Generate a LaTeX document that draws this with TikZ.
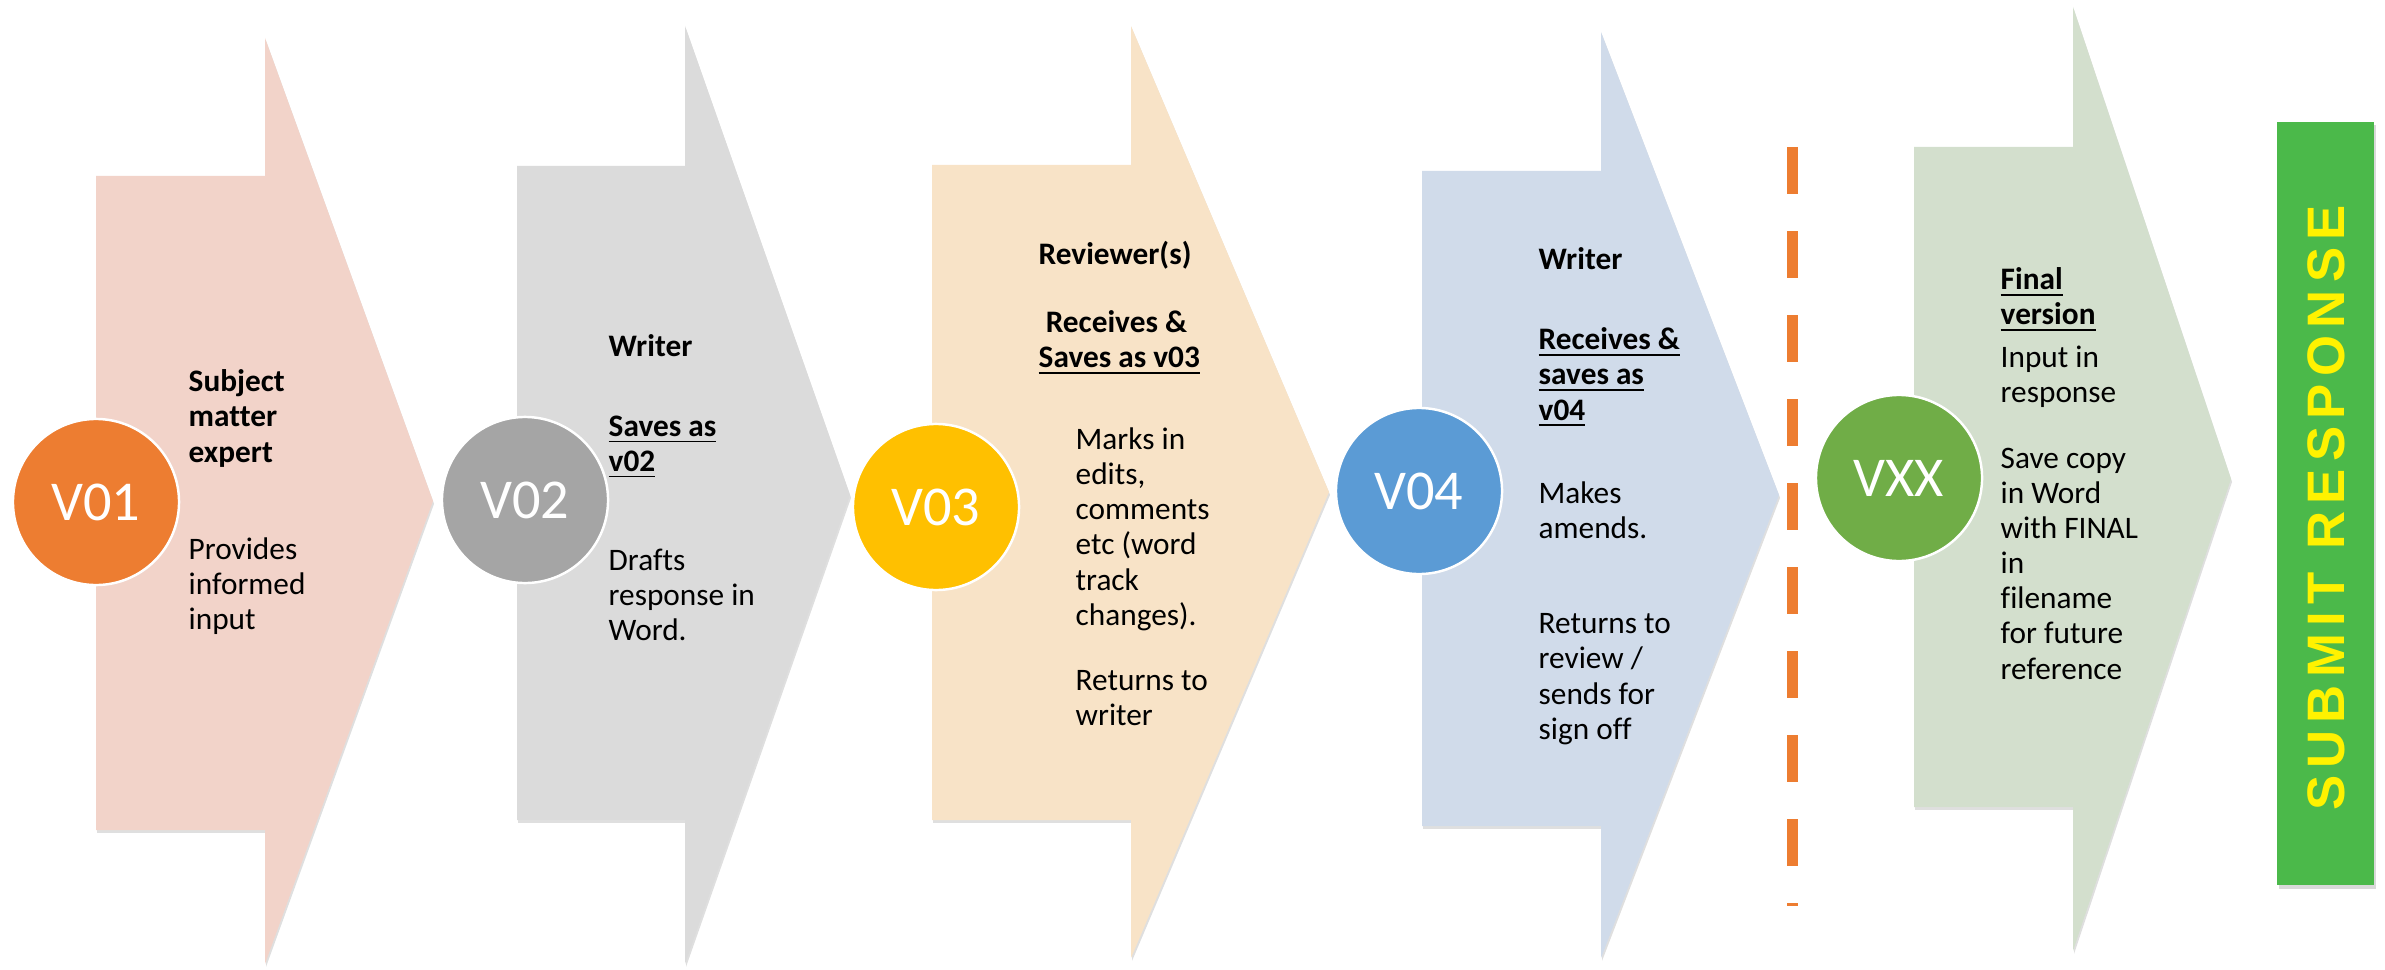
\documentclass[tikz,border=0pt]{standalone}
\usepackage{fontspec}
\setmainfont{Carlito}[Ligatures=NoCommon]
\newfontfamily\bannerfont[LetterSpace=14]{Liberation Sans}
\usetikzlibrary{shadows}

\definecolor{pinkfill}{HTML}{F2D3C9}
\definecolor{greyfill}{HTML}{DBDBDB}
\definecolor{peachfill}{HTML}{F8E3C7}
\definecolor{bluefill}{HTML}{D0DBEA}
\definecolor{sagefill}{HTML}{D3DFCD}
\definecolor{vorange}{HTML}{ED7D31}
\definecolor{vgrey}{HTML}{A5A5A5}
\definecolor{vgold}{HTML}{FFC000}
\definecolor{vblue}{HTML}{5B9BD5}
\definecolor{vgreen}{HTML}{70AD47}
\definecolor{submitgreen}{HTML}{4BB94A}

\begin{document}
\begin{tikzpicture}[x=0.01cm,y=-0.01cm,
  chevron/.style={drop shadow={opacity=0.25,shadow xshift=0.3pt,shadow yshift=-0.8pt}},
  badge/.style={circle,draw=white,line width=0.7pt,minimum size=1.66cm,inner sep=0pt,
    text=white,font=\fontsize{16}{19}\selectfont},
  note/.style={anchor=north west,align=left,inner sep=0pt,font=\fontsize{8.9}{10}\selectfont},
  title/.style={note,font=\fontsize{8.9}{10}\selectfont\bfseries}]
\useasboundingbox (0,0) rectangle (2385,970);

% the five chevrons
\fill[pinkfill,chevron] (96,176) -- (265,176) -- (265,38) -- (433,501)
  -- (265,964) -- (265,830) -- (96,830) -- cycle;
\fill[greyfill,chevron] (517,166) -- (685,166) -- (685,26) -- (850,495)
  -- (685,964) -- (685,820) -- (517,820) -- cycle;
\fill[peachfill,chevron] (932,165) -- (1131,165) -- (1131,26) -- (1329,492)
  -- (1131,958) -- (1131,820) -- (932,820) -- cycle;
\fill[bluefill,chevron] (1422,171) -- (1601,171) -- (1601,32) -- (1779,495)
  -- (1601,958) -- (1601,826) -- (1422,826) -- cycle;
\fill[sagefill,chevron] (1914,147) -- (2073,147) -- (2073,7) -- (2231,479)
  -- (2073,951) -- (2073,807) -- (1914,807) -- cycle;

% version badges
\node[badge,fill=vorange] (v01) at (96,502) {V01};
\node[badge,fill=vgrey] (v02) at (525,500) {V02};
\node[badge,fill=vgold] (v03) at (936,507) {V03};
\node[badge,fill=vblue] (v04) at (1419,491) {V04};
\node[badge,fill=vgreen] (vxx) at (1899,478) {VXX};

% V01
\node[title] (expert) at (188,369) {Subject\\matter\\expert};
\node[note] (input) at (188,537) {Provides\\informed\\input};

% V02
\node[title] (writerA) at (608,334) {Writer};
\node[title] (savesA) at (608,415) {\underline{Saves as}\\\underline{v02}};
\node[note] (drafts) at (608,548) {Drafts\\response in\\Word.};

% V03
\node[title] (reviewer) at (1038,241) {Reviewer(s)};
\node[title] (savesB) at (1038,310) {\ Receives \&\\\underline{Saves as v03}};
\node[note] (marks) at (1075,427) {Marks in\\edits,\\comments\\etc (word\\track\\changes).};
\node[note] (backA) at (1075,670) {Returns to\\writer};

% V04
\node[title] (writerB) at (1538,247) {Writer};
\node[title] (savesC) at (1538,327) {\underline{Receives \&}\\\underline{saves as}\\\underline{v04}};
\node[note] (amends) at (1538,481) {Makes\\amends.};
\node[note] (backB) at (1538,613) {Returns to\\review /\\sends for\\sign off};

% sign-off cut line
\coordinate (cut top) at (1792,147);
\coordinate (cut end) at (1792,906);
\draw[vorange,line width=0.11cm,dash pattern=on 0.47cm off 0.37cm] (cut top) -- (cut end);

% VXX
\node[title] (final) at (2000,267) {\underline{Final}\\\underline{version}};
\node[note] (inresp) at (2000,345) {Input in\\response};
\node[note] (copy) at (2000,447) {Save copy\\in Word\\with FINAL\\in\\filename\\for future\\reference};

% submit banner
\node[fill=submitgreen,minimum width=0.97cm,minimum height=7.63cm,inner sep=0pt,
  drop shadow={opacity=0.3,shadow xshift=0.6pt,shadow yshift=-1pt}] (submit) at (2325.5,503.5) {};
\node[rotate=90,text=yellow,font=\bannerfont\bfseries\fontsize{15}{18}\selectfont]
  (submittext) at (2326,508) {SUBMIT RESPONSE};
\end{tikzpicture}
\end{document}
